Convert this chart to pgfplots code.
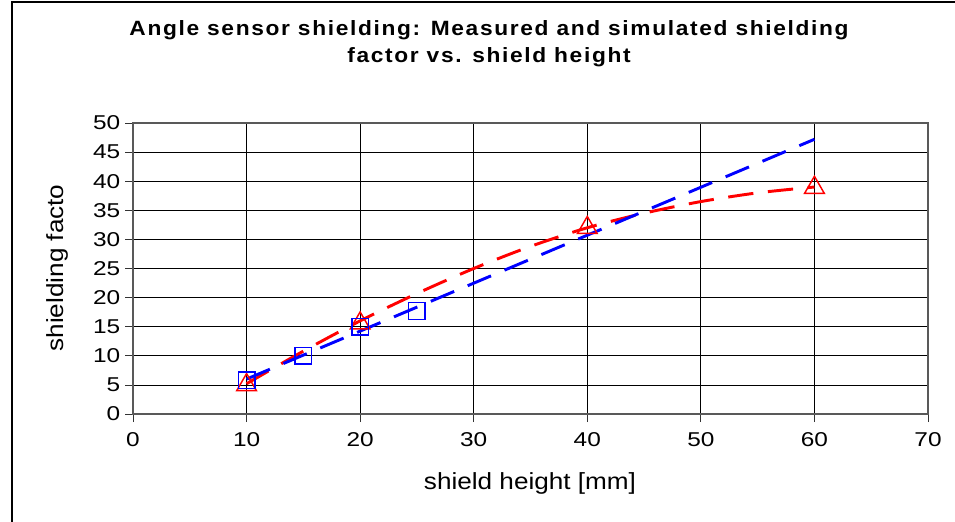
\documentclass[border=0pt]{standalone}
\usepackage{fontspec}
\setmainfont{Liberation Sans}
\newfontfamily\titlefont[LetterSpace=8,FakeStretch=1.1]{Liberation Sans}
\newfontfamily\tickfont[FakeStretch=1.22]{Liberation Sans}
\newfontfamily\labelfont[FakeStretch=1.12]{Liberation Sans}
\usepackage{pgfplots}
\pgfplotsset{compat=1.18}
\begin{document}
\begin{tikzpicture}
\useasboundingbox (-99.75pt,-80.25pt) rectangle (616.5pt,310.5pt);
\draw[line width=1.6pt] (-90.75pt,-90pt) -- (-90.75pt,309pt) -- (640pt,309pt);
\begin{axis}[
  at={(0,0)}, anchor=south west,
  scale only axis, width=596.25pt, height=218.25pt,
  xmin=0, xmax=70, ymin=0, ymax=50,
  xtick={0,10,...,70}, ytick={0,5,...,50},
  xtick pos=bottom, ytick pos=left,
  grid=major, major grid style={black, line width=0.6pt},
  axis line style={black!65, line width=1pt},
  tick style={black!80, line width=0.6pt},
  tick align=outside, major tick length=6pt,
  ticklabel style={font=\tickfont\fontsize{15}{16}\selectfont},
  xticklabel style={yshift=-4pt},
  /pgf/number format/assume math mode=true,
  clip=false,
]
% trendlines
\addplot[red, line width=2.2pt, dash pattern=on 19pt off 11pt, smooth] coordinates {
 (10,5.2) (15,10.8) (20,16.0) (25,20.7) (30,25.0) (35,28.8) (40,32.0) (45,34.5) (50,36.5) (55,38.0) (60,39.0)};
\addplot[blue, line width=2.2pt, dash pattern=on 19pt off 11pt] coordinates {
 (10,6.0) (60,47.2)};
% measured / simulated points
\addplot[only marks, red, mark=triangle, mark size=8.5pt, mark options={line width=1.1pt, fill=none}] coordinates {
 (10,5.0) (20,15.6) (40,32.0) (60,38.9)};
\addplot[only marks, blue, mark=square, mark size=6.2pt, mark options={line width=1.1pt, fill=none}] coordinates {
 (10,5.8) (15,10.0) (20,15.0) (25,17.7)};
\end{axis}
\node[font=\titlefont\bfseries\fontsize{15.5}{20.25}\selectfont, align=center] at (267pt,277.9pt)
 {Angle sensor shielding: Measured and simulated shielding\\factor vs. shield height};
\node[font=\labelfont\fontsize{17.5}{20}\selectfont] at (297.75pt,-52pt) {shield height [mm]};
\node[font=\labelfont\fontsize{17.5}{20}\selectfont, rotate=90] at (-57pt,109.5pt) {shielding facto};
\end{tikzpicture}
\end{document}
